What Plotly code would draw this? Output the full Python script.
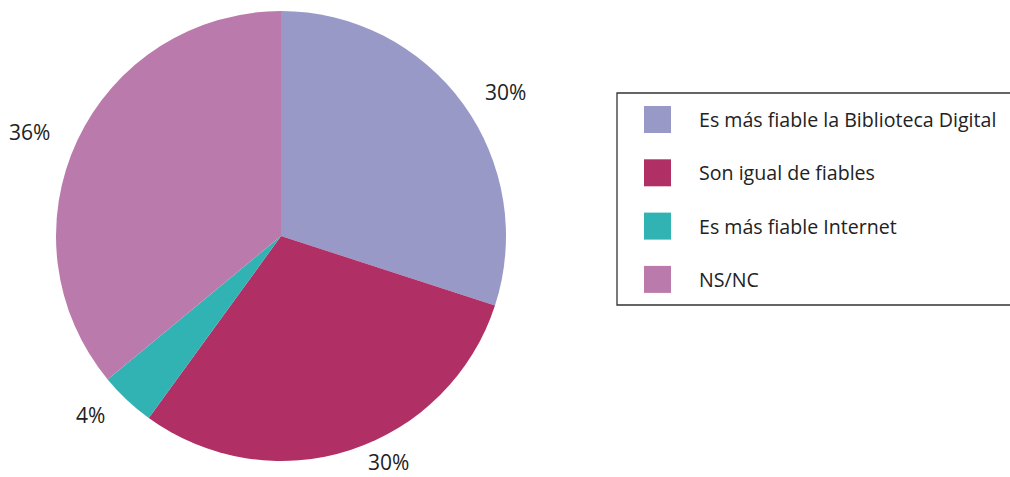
import math
import plotly.graph_objects as go

categories = ["Es más fiable la Biblioteca Digital", "Son igual de fiables",
              "Es más fiable Internet", "NS/NC"]
values = [30, 30, 4, 36]
colors = ["#9999C8", "#B03066", "#31B3B3", "#BA7BAC"]

W, H = 1010, 477
CX, CY, R = 281, 236, 225
FONT = "Open Sans"

def px(x):
    return x / W

def py(y):
    return 1 - y / H

fig = go.Figure()
fig.add_trace(go.Pie(
    labels=categories, values=values, sort=False, direction="clockwise",
    rotation=0, marker=dict(colors=colors, line=dict(width=0)),
    textinfo="none", hoverinfo="label+percent", showlegend=False,
    domain=dict(x=[px(CX - R), px(CX + R)], y=[py(CY + R), py(CY - R)]),
))

# percentage labels placed outside the slices, on an ellipse around the rim;
# a label that would leave the canvas slides along that ellipse
total = sum(values)
cum = 0
off_x, off_y, y_max = 53, 20, H - 15
rx, ry = R + off_x, R + off_y
for v in values:
    mid = (cum + v / 2) / total * 2 * math.pi
    cum += v
    s, c = math.sin(mid), -math.cos(mid)
    ly = CY + c * ry
    if ly > y_max:
        c = (y_max - CY) / ry
        s = math.copysign(math.sqrt(1 - c * c), s)
        ly = y_max
    lx = CX + s * rx
    fig.add_annotation(x=px(lx), y=py(ly), xref="paper", yref="paper",
                       text=f"{round(v / total * 100)}%", showarrow=False,
                       font=dict(family=FONT, size=21, color="#222222"),
                       xanchor="center", yanchor="middle")

# legend box
fig.add_shape(type="rect", xref="paper", yref="paper",
              x0=px(617), x1=px(1016), y0=py(305), y1=py(93),
              line=dict(color="#333333", width=1.3), fillcolor="rgba(0,0,0,0)")
row0, step, sq = 119.5, 53.3, 27
for i, (cat, col) in enumerate(zip(categories, colors)):
    yc = row0 + i * step
    fig.add_shape(type="rect", xref="paper", yref="paper",
                  x0=px(644), x1=px(644 + sq), y0=py(yc + sq / 2), y1=py(yc - sq / 2),
                  line=dict(width=0), fillcolor=col)
    fig.add_annotation(x=px(697), y=py(yc), xref="paper", yref="paper",
                       text=cat, showarrow=False, xanchor="left", yanchor="middle",
                       font=dict(family=FONT, size=19.6, color="#222222"))

fig.update_layout(
    width=W, height=H, margin=dict(l=0, r=0, t=0, b=0),
    paper_bgcolor="white", plot_bgcolor="white",
    font=dict(family=FONT),
)
fig.write_html("out.html", config={"displayModeBar": False},
               post_script="document.body.style.margin='0';document.body.style.overflow='hidden';")
